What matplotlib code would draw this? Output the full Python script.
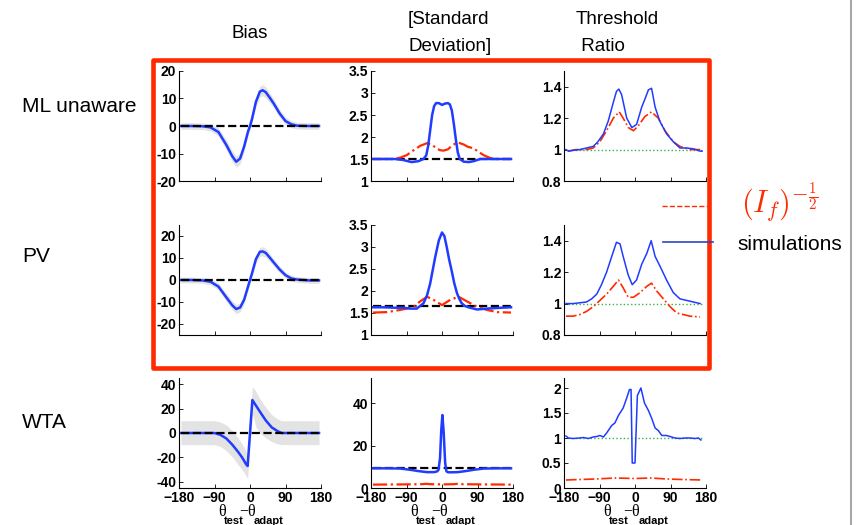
import matplotlib
matplotlib.use('Agg')
import matplotlib.pyplot as plt
import numpy as np
from matplotlib.lines import Line2D
from matplotlib.patches import Rectangle
from matplotlib.ticker import FormatStrFormatter

plt.rcParams['font.family'] = ['Liberation Sans', 'DejaVu Sans']
plt.rcParams['mathtext.fontset'] = 'cm'

# ---- bias (deg) ----
bias_x = [-175, -150, -120, -100, -80, -60, -45, -35, -25, -15, -5, 0, 5, 15, 25, 32, 40, 50, 60, 75, 90, 105, 120, 150, 175]
bias_ml = [0, 0, -0.1, -0.5, -2.2, -6.9, -11, -13, -11.8, -7.5, -2, 0, 2.5, 8.8, 12.5, 13, 12.3, 10.3, 8.2, 4.6, 1.8, 0.6, 0.1, 0, 0]
bias_ml_err = [1.2, 1.2, 1.2, 1.3, 1.5, 1.8, 2, 2, 2, 1.8, 1.5, 1.5, 1.5, 1.8, 2, 2, 2, 1.8, 1.6, 1.5, 1.4, 1.3, 1.2, 1.2, 1.2]
bias_pv = [0, 0, -0.2, -0.8, -3, -7.9, -11.5, -13.2, -12.5, -9, -3, 0, 3, 9.5, 12.8, 13, 12.3, 10.2, 8, 4.8, 2.2, 0.7, 0.2, -0.2, -0.2]
bias_pv_err = [1.3, 1.3, 1.3, 1.4, 1.6, 1.8, 2, 2.1, 2, 1.8, 1.6, 1.5, 1.6, 1.8, 2, 2.1, 2, 1.8, 1.6, 1.5, 1.4, 1.3, 1.3, 1.3, 1.3]

bias_wta_x = [-175, -150, -120, -90, -75, -60, -45, -30, -20, -10, -6, 6, 15, 25, 40, 55, 70, 80, 100, 130, 175]
bias_wta = [0, 0, 0, 0, -1.5, -4.5, -9.5, -15.5, -20, -25.5, -27, 27, 22.5, 17.5, 10.3, 4.6, 1.5, 0, 0, 0, 0]
bias_wta_hi = [10, 10, 10, 10, 9, 6.5, 2, -4, -9, -15, -17, 38, 34, 28, 21, 15, 11.5, 10, 10, 10, 10]
bias_wta_lo = [-9.5, -9.5, -9.5, -9.5, -11, -14.5, -19.5, -26, -30, -35, -37, 16, 5, 0, -4, -7, -9, -9.5, -9.5, -9.5, -9.5]

# ---- standard deviation ----
ref_x = [-175, 175]
std_ml_x = [-175, -150, -120, -100, -77, -60, -47, -40, -35, -30, -25, -20, -15, -8, 0, 8, 15, 20, 25, 30, 35, 40, 45, 55, 67, 80, 97, 120, 150, 175]
std_ml = [1.5, 1.5, 1.5, 1.48, 1.43, 1.45, 1.5, 1.58, 1.8, 2.15, 2.5, 2.7, 2.77, 2.77, 2.73, 2.76, 2.77, 2.74, 2.6, 2.3, 1.95, 1.65, 1.5, 1.44, 1.43, 1.45, 1.5, 1.5, 1.5, 1.5]
std_ml_ref = [1.5, 1.5]
std_ml_fi_x = [-175, -150, -123, -106, -89, -72, -55, -38, -25, -15, -5, 4, 15, 25, 35, 42, 55, 65, 80, 95, 105, 120, 131, 150, 175]
std_ml_fi = [1.5, 1.5, 1.5, 1.53, 1.59, 1.70, 1.8, 1.86, 1.82, 1.75, 1.7, 1.69, 1.72, 1.8, 1.86, 1.87, 1.83, 1.78, 1.74, 1.65, 1.59, 1.53, 1.5, 1.5, 1.5]

std_pv_x = [-175, -150, -120, -98, -80, -64, -47, -38, -30, -23, -17, -8, 0, 6, 12, 18, 25, 31, 38, 44, 50, 58, 67, 80, 89, 114, 150, 175]
std_pv = [1.63, 1.63, 1.62, 1.62, 1.6, 1.6, 1.72, 1.9, 2.17, 2.5, 2.78, 3.15, 3.33, 3.25, 3.0, 2.72, 2.44, 2.18, 1.95, 1.82, 1.72, 1.66, 1.63, 1.6, 1.58, 1.6, 1.62, 1.63]
std_pv_ref = [1.65, 1.65]
std_pv_fi_x = [-175, -140, -106, -89, -72, -56, -38, -22, 0, 21, 42, 64, 89, 114, 140, 175]
std_pv_fi = [1.51, 1.52, 1.57, 1.6, 1.64, 1.76, 1.87, 1.8, 1.68, 1.8, 1.87, 1.76, 1.64, 1.57, 1.52, 1.51]

std_wta_x = [-175, -140, -106, -80, -60, -38, -20, -13, -9, -5, -2, 1, 4, 8, 11, 14, 20, 40, 60, 80, 106, 140, 175]
std_wta = [9.3, 9.3, 9.2, 8.6, 8.0, 7.5, 7.5, 7.8, 8.5, 14, 27, 34.5, 27, 12, 8, 7.5, 7.4, 7.5, 8.0, 8.6, 9.2, 9.3, 9.3]
std_wta_ref = [9.5, 9.5]
std_wta_fi_x = [-175, -100, -50, -40, -30, 0, 30, 40, 50, 100, 175]
std_wta_fi = [1.6, 1.7, 1.8, 2.0, 1.8, 1.7, 1.8, 2.0, 1.8, 1.7, 1.6]

# ---- threshold ratio ----
one_x = [-170, 170]
one_y = [1, 1]
thr_ml_x = [-175, -169, -157, -140, -123, -106, -94, -80, -68, -55, -47, -41, -34, -21, -8, 4, 17, 25, 34, 42, 51, 63, 80, 97, 114, 131, 148, 165, 170]
thr_ml = [1.0, 0.99, 0.995, 1.0, 1.01, 1.02, 1.05, 1.1, 1.18, 1.3, 1.37, 1.385, 1.35, 1.2, 1.14, 1.16, 1.27, 1.32, 1.38, 1.39, 1.27, 1.18, 1.1, 1.05, 1.01, 1.01, 1.005, 0.99, 0.99]
thr_ml_fi_x = [-170, -150, -123, -106, -89, -72, -55, -40, -30, -17, -4, 8, 25, 42, 59, 76, 97, 114, 139, 166]
thr_ml_fi = [0.99, 1.0, 1.0, 1.01, 1.05, 1.12, 1.2, 1.24, 1.2, 1.14, 1.12, 1.15, 1.21, 1.24, 1.2, 1.12, 1.05, 1.02, 1.0, 1.0]

thr_pv_x = [-175, -157, -140, -123, -110, -97, -85, -72, -59, -47, -38, -30, -17, -7, 4, 17, 30, 41, 51, 63, 80, 97, 114, 131, 148, 165]
thr_pv = [1.0, 1.0, 1.005, 1.01, 1.03, 1.06, 1.12, 1.2, 1.3, 1.39, 1.38, 1.3, 1.18, 1.12, 1.15, 1.25, 1.32, 1.4, 1.3, 1.24, 1.15, 1.07, 1.03, 1.02, 1.01, 1.0]
thr_pv_fi_x = [-175, -157, -140, -123, -106, -89, -72, -55, -42, -30, -17, -4, 13, 30, 42, 55, 72, 89, 106, 123, 139, 165]
thr_pv_fi = [0.92, 0.92, 0.93, 0.95, 0.98, 1.02, 1.06, 1.11, 1.15, 1.1, 1.04, 1.04, 1.07, 1.11, 1.13, 1.08, 1.03, 0.98, 0.94, 0.93, 0.92, 0.915]

thr_wta_x = [-175, -169, -157, -140, -131, -118, -106, -97, -89, -80, -72, -59, -51, -42, -30, -21, -14, -10, -7, 0, 6, 15, 24, 34, 42, 51, 59, 68, 80, 93, 101, 114, 127, 139, 152, 161, 167]
thr_wta = [1.04, 1.0, 0.99, 1.0, 1.01, 0.99, 1.02, 1.03, 1.05, 1.02, 1.1, 1.25, 1.3, 1.45, 1.6, 1.8, 1.97, 1.97, 0.5, 0.5, 1.85, 2.0, 1.7, 1.55, 1.4, 1.2, 1.15, 1.05, 1.05, 1.02, 1.0, 0.99, 1.0, 1.0, 0.99, 1.0, 0.96]
thr_wta_fi_x = [-175, -140, -100, -50, 0, 40, 80, 120, 170]
thr_wta_fi = [0.16, 0.17, 0.18, 0.2, 0.19, 0.2, 0.18, 0.17, 0.16]

row_names = ['ML unaware', 'PV', 'WTA']
x_ticks = [-180, -90, 0, 90, 180]

blue = '#1f3cff'
red = '#ff2a00'
W, H = 858.0, 525.0

fig = plt.figure(figsize=(W / 100, H / 100), dpi=100)

col_left = [179, 371, 564]
row_top = [71, 225, 378]
aw, ah = 142, 110


def make_ax(r, c):
    ax = fig.add_axes([col_left[c] / W, 1 - (row_top[r] + ah) / H, aw / W, ah / H])
    ax.spines['top'].set_visible(False)
    ax.spines['right'].set_visible(False)
    ax.spines['left'].set_linewidth(0.8)
    ax.spines['bottom'].set_linewidth(0.8)
    ax.set_xlim(-180, 180)
    ax.set_xticks(x_ticks)
    ax.tick_params(direction='in', length=3, width=0.6, labelsize=10, pad=2)
    if r < 2:
        ax.set_xticklabels([])
    ax.yaxis.set_major_formatter(FormatStrFormatter('%g'))
    return ax


def bold_ticks(ax):
    for lab in ax.get_xticklabels() + ax.get_yticklabels():
        lab.set_fontweight('bold')


# column 1: bias
bias_sets = [(bias_x, bias_ml, bias_ml_err, (-20, 20), [-20, -10, 0, 10, 20]),
             (bias_x, bias_pv, bias_pv_err, (-25, 25), [-20, -10, 0, 10, 20])]
for r in range(2):
    bx, by, be, yl, yt = bias_sets[r]
    ax = make_ax(r, 0)
    by = np.array(by)
    be = np.array(be)
    ax.fill_between(bx, by - be, by + be, color='#e3e3e3', lw=0)
    ax.plot(bx, by, color=blue, lw=1.8)
    ax.plot(ref_x, [0, 0], 'k--', lw=1.6)
    ax.set_ylim(*yl)
    ax.set_yticks(yt)
    bold_ticks(ax)

ax = make_ax(2, 0)
ax.fill_between(bias_wta_x, bias_wta_lo, bias_wta_hi, color='#e3e3e3', lw=0)
ax.plot(bias_wta_x, bias_wta, color=blue, lw=1.8)
ax.plot(ref_x, [0, 0], 'k--', lw=1.6)
ax.set_ylim(-45, 45)
ax.set_yticks([-40, -20, 0, 20, 40])
bold_ticks(ax)

# column 2: standard deviation
std_sets = [(std_ml_x, std_ml, std_ml_ref, std_ml_fi_x, std_ml_fi, (1, 3.5), [1, 1.5, 2, 2.5, 3, 3.5]),
            (std_pv_x, std_pv, std_pv_ref, std_pv_fi_x, std_pv_fi, (1, 3.5), [1, 1.5, 2, 2.5, 3, 3.5]),
            (std_wta_x, std_wta, std_wta_ref, std_wta_fi_x, std_wta_fi, (0, 52), [0, 20, 40])]
for r in range(3):
    sx, sy, sref, fx, fy, yl, yt = std_sets[r]
    ax = make_ax(r, 1)
    ax.plot(ref_x, sref, 'k--', lw=1.6)
    ax.plot(fx, fy, color=red, ls='-.', lw=1.6)
    ax.plot(sx, sy, color=blue, lw=1.8)
    ax.set_ylim(*yl)
    ax.set_yticks(yt)
    bold_ticks(ax)

# column 3: threshold ratio
thr_sets = [(thr_ml_x, thr_ml, thr_ml_fi_x, thr_ml_fi, (0.8, 1.5), [0.8, 1, 1.2, 1.4]),
            (thr_pv_x, thr_pv, thr_pv_fi_x, thr_pv_fi, (0.8, 1.5), [0.8, 1, 1.2, 1.4]),
            (thr_wta_x, thr_wta, thr_wta_fi_x, thr_wta_fi, (0, 2.2), [0, 0.5, 1, 1.5, 2])]
for r in range(3):
    tx, ty, fx, fy, yl, yt = thr_sets[r]
    ax = make_ax(r, 2)
    ax.plot(one_x, one_y, color='#3cb043', ls=':', lw=1.0)
    ax.plot(fx, fy, color=red, ls='-.', lw=1.2)
    ax.plot(tx, ty, color=blue, lw=1.1)
    ax.set_ylim(*yl)
    ax.set_yticks(yt)
    bold_ticks(ax)

# x label under the bottom row: theta_test - theta_adapt
for c in range(3):
    cx = col_left[c] + aw / 2.0
    fig.text((cx - 28) / W, 1 - 512 / H, '\u03b8', family='Liberation Serif', fontsize=11.5, ha='center', va='center')
    fig.text((cx - 16.5) / W, 1 - 521 / H, 'test', fontsize=8, fontweight='bold', ha='center', va='center')
    fig.text((cx - 3) / W, 1 - 512 / H, '\u2212\u03b8', family='Liberation Serif', fontsize=11.5, ha='center', va='center')
    fig.text((cx + 19) / W, 1 - 521 / H, 'adapt', fontsize=8, fontweight='bold', ha='center', va='center')

# column headers and row names
fig.text(250 / W, 1 - 33 / H, 'Bias', fontsize=13.5, ha='center', va='center')
fig.text(408 / W, 1 - 33 / H, '[Standard\nDeviation]', fontsize=13.5, ha='left', va='center', linespacing=1.7)
fig.text(576 / W, 1 - 33 / H, 'Threshold\n Ratio', fontsize=13.5, ha='left', va='center', linespacing=1.7)
for name, y in zip(row_names, [107, 257, 423]):
    fig.text(22 / W, 1 - y / H, name, fontsize=15, ha='left', va='center')

# box round the ML / PV rows
fig.add_artist(Rectangle((153 / W, 1 - 368 / H), (709 - 153) / W, (368 - 60) / H,
                         transform=fig.transFigure, fill=False, ec=red, lw=3.3, joinstyle='round', zorder=10))

# legend
fig.add_artist(Line2D([662 / W, 708 / W], [1 - 206 / H] * 2, color=red, ls='--', lw=1.0))
fig.add_artist(Line2D([663 / W, 713 / W], [1 - 242 / H] * 2, color='#2a46c8', lw=1.2, zorder=11))
fig.text(741 / W, 1 - 203 / H, r'$(I_f)^{-\frac{1}{2}}$', color=red, fontsize=22, ha='left', va='center')
fig.text(737 / W, 1 - 245 / H, 'simulations', fontsize=15, ha='left', va='center')

fig.add_artist(Line2D([850.5 / W] * 2, [0, 1], color='#a8a8a8', lw=1.5))

fig.savefig('out.png', dpi=100)
